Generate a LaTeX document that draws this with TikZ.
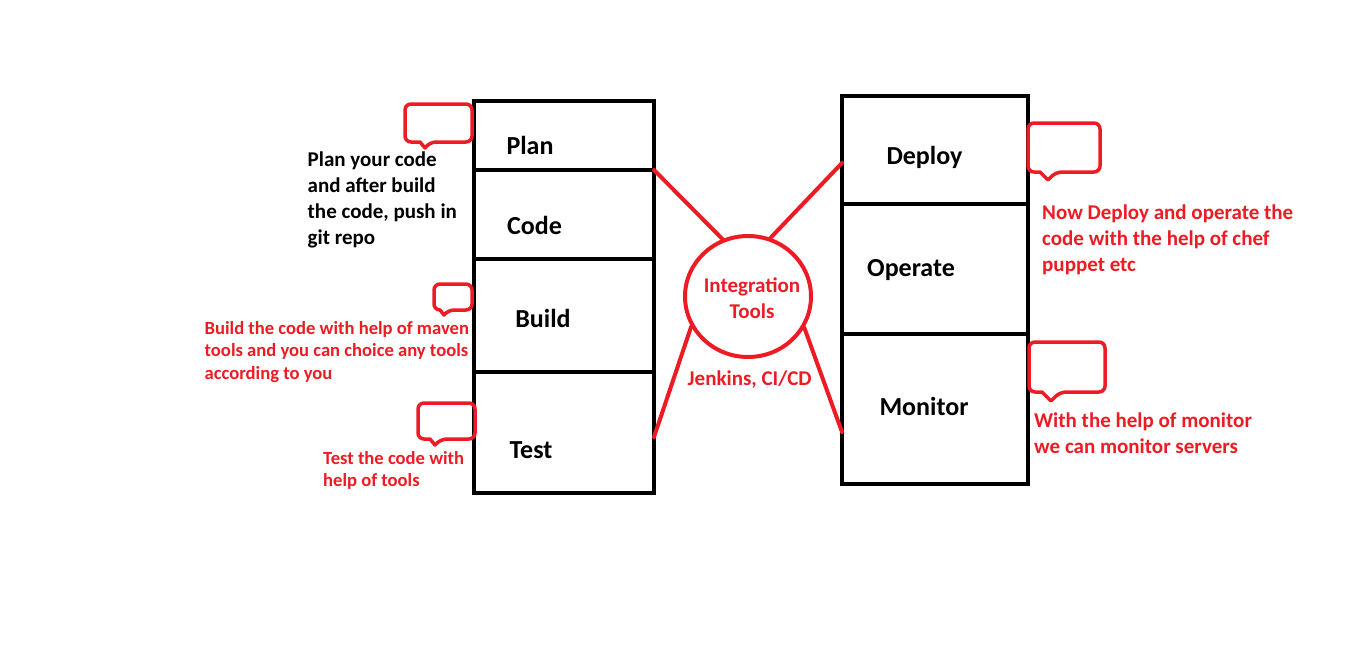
\documentclass[tikz,border=0pt]{standalone}
\usepackage{fontspec}
\setmainfont{Carlito}
\usetikzlibrary{shapes.geometric}
\definecolor{pred}{HTML}{ED1C24}
\newcommand{\mlines}[1]{\begin{tabular}[t]{@{}l@{}}#1\end{tabular}}
\newcommand{\speechbub}[8]{%
  \draw[bubble] (#5,#4) [rounded corners=6pt] -- (#1,#4) -- (#1,#2) -- (#3,#2) -- (#3,#4) -- (#7,#4) [sharp corners] -- (#6,#8) -- cycle;}
\begin{document}
\begin{tikzpicture}[x=1pt,y=-1pt,
  stagebox/.style={draw=black,line width=4.5pt,inner sep=0pt,outer sep=0pt,rectangle},
  stagelabel/.style={font=\fontsize{26}{30}\selectfont\bfseries,anchor=base,inner sep=0pt},
  blacknote/.style={font=\fontsize{21}{26}\selectfont\bfseries,anchor=base west,inner sep=0pt,text=black},
  rednote/.style={font=\fontsize{21}{26}\selectfont\bfseries,anchor=base west,inner sep=0pt,text=pred},
  smallnote/.style={font=\fontsize{18.6}{22.6}\selectfont\bfseries,anchor=base west,inner sep=0pt,text=pred},
  tool/.style={draw=pred,line width=4pt,ellipse,minimum width=126pt,minimum height=121pt,inner sep=0pt},
  link/.style={draw=pred,line width=4pt,line cap=round},
  bubble/.style={draw=pred,line width=3.5pt,line join=round}]
\useasboundingbox (0,0) rectangle (1367,653);
\fill[white] (0,0) rectangle (1367,653);

% left column
\node[stagebox,minimum width=180pt,minimum height=69pt] (plan) at (564,135.5) {};
\node[stagebox,minimum width=180pt,minimum height=89pt] (code) at (564,214.5) {};
\node[stagebox,minimum width=180pt,minimum height=113pt] (build) at (564,315.5) {};
\node[stagebox,minimum width=180pt,minimum height=121pt] (test) at (564,432.5) {};
\node[stagelabel] (planl) at (530,154) {Plan};
\node[stagelabel] (codel) at (534.5,234) {Code};
\node[stagelabel] (buildl) at (543,327) {Build};
\node[stagelabel] (testl) at (531,458) {Test};

% right column
\node[stagebox,minimum width=186pt,minimum height=108pt] (deploy) at (935,150) {};
\node[stagebox,minimum width=186pt,minimum height=130pt] (operate) at (935,269) {};
\node[stagebox,minimum width=186pt,minimum height=150pt] (monitor) at (935,409) {};
\node[stagelabel] (deployl) at (924.5,164) {Deploy};
\node[stagelabel] (operatel) at (911,276) {Operate};
\node[stagelabel] (monitorl) at (924,415) {Monitor};

% integration tools
\node[tool] (tools) at (748,296.5) {};
\node[font=\fontsize{21}{25.5}\selectfont\bfseries,text=pred,anchor=base,inner sep=0pt] (toolsl) at (752,292.7) {\begin{tabular}[t]{@{}c@{}}Integration\\Tools\end{tabular}};
\node[font=\fontsize{21}{26}\selectfont\bfseries,text=pred,anchor=base,inner sep=0pt] (jenk) at (749.7,385) {Jenkins, CI/CD};

\draw[link] (plan.south east) -- (tools.114);
\draw[link] ([yshift=-13pt]deploy.west) -- (tools.69.4);
\draw[link] (tools.208.6) -- ([yshift=-4.5pt]test.east);
\draw[link] (tools.331.4) -- ([yshift=-23pt]monitor.west);

% notes
\node[blacknote] (n1) at (307.5,166) {\mlines{Plan your code\\and after build\\the code, push in\\git repo}};
\node[smallnote] (n2) at (204.5,334) {\mlines{Build the code with help of maven\\tools and you can choice any tools\\according to you}};
\node[smallnote] (n3) at (323,464) {\mlines{Test the code with\\help of tools}};
\node[rednote] (n4) at (1042,219) {\mlines{Now Deploy and operate the\\code with the help of chef\\puppet etc}};
\node[rednote] (n5) at (1034,427) {\mlines{With the help of monitor\\we can monitor servers}};

% speech bubbles
\speechbub{405}{104}{472}{142}{420}{425}{430}{148}
\speechbub{434}{284}{472}{310}{440}{444}{448}{315}
\speechbub{418}{403}{475}{439}{430}{435}{441}{445}
\speechbub{1028}{123}{1100}{172}{1040}{1048}{1056}{180}
\speechbub{1029}{342}{1105}{392}{1042}{1051}{1060}{401}
\end{tikzpicture}
\end{document}
